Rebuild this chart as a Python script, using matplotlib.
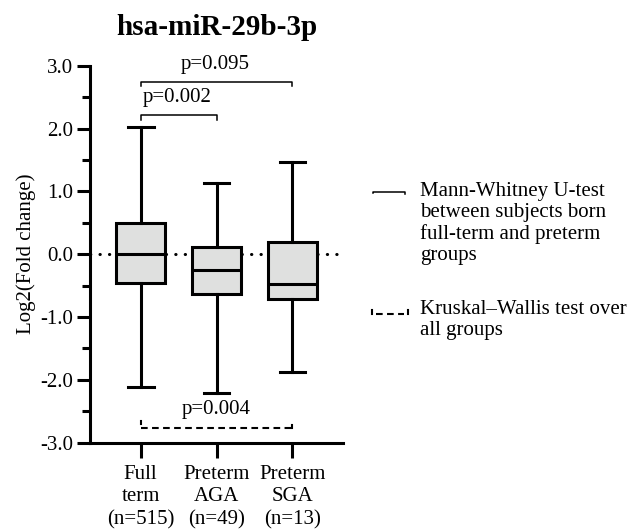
import matplotlib
matplotlib.use("Agg")
import matplotlib.pyplot as plt
from matplotlib.lines import Line2D
from matplotlib.ticker import MultipleLocator, FormatStrFormatter

plt.rcParams['font.family'] = ['Liberation Serif', 'DejaVu Serif']
plt.rcParams['axes.unicode_minus'] = False

# data
groups = ['Full\nterm\n(n=515)', 'Preterm\nAGA\n(n=49)', 'Preterm\nSGA\n(n=13)']
whislo = [-2.12, -2.21, -1.88]
q1 = [-0.46, -0.63, -0.71]
med = [0.0, -0.25, -0.48]
q3 = [0.50, 0.11, 0.19]
whishi = [2.03, 1.14, 1.46]

mw_pairs = [(1, 2), (1, 3)]
mw_p = ['p=0.002', 'p=0.095']
mw_y = [2.21, 2.74]
kw_p = 'p=0.004'
kw_y = -2.76

fs = 15

fig = plt.figure(figsize=(6.3, 5.32), dpi=100)
ax = fig.add_axes([0.1429, 0.1679, 0.4016, 0.7086])

stats = []
for i in range(len(groups)):
    stats.append(dict(whislo=whislo[i], q1=q1[i], med=med[i], q3=q3[i],
                      whishi=whishi[i], label=groups[i]))

lw = 2.2
ax.bxp(stats, positions=[1, 2, 3], widths=0.645, capwidths=0.34,
       showfliers=False, patch_artist=True,
       boxprops=dict(facecolor='#dfe0df', edgecolor='black', linewidth=lw),
       medianprops=dict(color='black', linewidth=lw),
       whiskerprops=dict(color='black', linewidth=lw),
       capprops=dict(color='black', linewidth=lw), zorder=3)

# dotted zero line
ax.axhline(0, color='black', lw=2.2, ls=(0, (0.1, 3.0)), dash_capstyle='round', zorder=1)

# Mann-Whitney brackets
for (a, b), txt, y in zip(mw_pairs, mw_p, mw_y):
    ax.plot([a, a, b, b], [y - 0.07, y, y, y - 0.07], color='black', lw=1.1,
            clip_on=False)
    ax.text((a + b) / 2 - 0.02, y + 0.21, txt, ha='center', va='baseline',
            fontsize=fs, clip_on=False)

# Kruskal-Wallis line
ax.plot([1, 1], [kw_y + 0.1, kw_y + 0.05], color='black', lw=1.5)
ax.plot([1, 3], [kw_y, kw_y], color='black', lw=1.5, ls=(0, (3.2, 2.1)))
ax.plot([3, 3], [kw_y, kw_y + 0.04], color='black', lw=1.5)
ax.text(2, kw_y + 0.21, kw_p, ha='center', va='baseline', fontsize=fs)

ax.set_xlim(0.333, 3.667)
ax.set_ylim(-3, 3)
ax.yaxis.set_major_locator(MultipleLocator(1))
ax.yaxis.set_minor_locator(MultipleLocator(0.5))
ax.yaxis.set_major_formatter(FormatStrFormatter('%.1f'))
ax.set_xticks([1, 2, 3])
ax.set_xticklabels(groups, fontsize=fs, linespacing=1.25)

for s in ['top', 'right']:
    ax.spines[s].set_visible(False)
for s in ['left', 'bottom']:
    ax.spines[s].set_linewidth(2.2)
ax.tick_params(axis='y', which='major', length=9.4, width=2.2, labelsize=fs, pad=3)
ax.tick_params(axis='y', which='minor', length=5.8, width=2.2)
ax.tick_params(axis='x', length=11, width=2.2, labelsize=fs, pad=5)

ax.set_ylabel('Log2(Fold change)', fontsize=fs, labelpad=3)
ax.set_title('hsa-miR-29b-3p', fontsize=21, fontweight='bold', pad=22)

# legend drawn by hand, figure coordinates
W, H = 630, 532
def fx(px):
    return px / W
def fy(py):
    return 1 - py / H

fig.add_artist(Line2D([fx(373), fx(373), fx(405), fx(405)],
                      [fy(193), fy(192), fy(192), fy(193.5)], color='black', lw=1.1))
fig.text(fx(420), fy(182), 'Mann-Whitney U-test\nbetween subjects born\nfull-term and preterm\ngroups',
         ha='left', va='top', fontsize=fs, linespacing=1.15)

fig.add_artist(Line2D([fx(372), fx(372)], [fy(310), fy(314)], color='black', lw=1.5))
fig.add_artist(Line2D([fx(376), fx(404)], [fy(314), fy(314)], color='black', lw=1.5,
                      ls=(0, (3.2, 2.1))))
fig.add_artist(Line2D([fx(408), fx(408)], [fy(310), fy(314)], color='black', lw=1.5))
fig.text(fx(420), fy(300), 'Kruskal\u2013Wallis test over\nall groups',
         ha='left', va='top', fontsize=fs, linespacing=1.15)

fig.savefig('out.png', dpi=100)
